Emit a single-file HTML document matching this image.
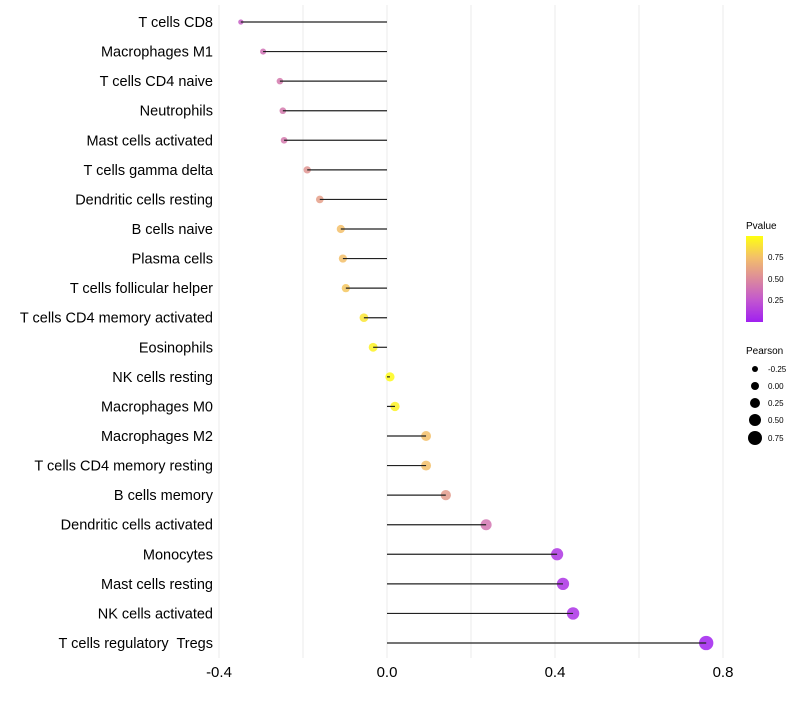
<!DOCTYPE html>
<html><head><meta charset="utf-8"><style>body{margin:0;background:#fff}svg{font-family:"Liberation Sans",sans-serif}text{white-space:pre}</style></head>
<body>
<svg id="c" width="800" height="700">
<defs><linearGradient id="pg" x1="0" y1="1" x2="0" y2="0">
<stop offset="0" stop-color="#a020f0"/><stop offset="0.25" stop-color="#c256d0"/><stop offset="0.5" stop-color="#dc8a9c"/><stop offset="0.75" stop-color="#f3bf6a"/><stop offset="1" stop-color="#ffff10"/></linearGradient></defs>
<g id="grid"></g><g id="dots"></g><g id="marks"></g><g id="labels"></g>
<g>
<text x="746" y="229" font-size="10">Pvalue</text>
<rect x="746" y="236" width="17" height="86" fill="url(#pg)"/>
<text x="768" y="260" font-size="8">0.75</text><text x="768" y="282" font-size="8">0.50</text><text x="768" y="303" font-size="8">0.25</text>
</g>
<g>
<text x="746" y="354" font-size="10">Pearson</text>
<circle cx="755" cy="369" r="3"/><text x="768" y="372" font-size="8">-0.25</text>
<circle cx="755" cy="386" r="4"/><text x="768" y="389" font-size="8">0.00</text>
<circle cx="755" cy="403" r="5"/><text x="768" y="406" font-size="8">0.25</text>
<circle cx="755" cy="420" r="6"/><text x="768" y="423" font-size="8">0.50</text>
<circle cx="755" cy="438" r="7"/><text x="768" y="441" font-size="8">0.75</text>
</g>
</svg>
<script>
const categories=["T cells CD8","Macrophages M1","T cells CD4 naive","Neutrophils","Mast cells activated","T cells gamma delta","Dendritic cells resting","B cells naive","Plasma cells","T cells follicular helper","T cells CD4 memory activated","Eosinophils","NK cells resting","Macrophages M0","Macrophages M2","T cells CD4 memory resting","B cells memory","Dendritic cells activated","Monocytes","Mast cells resting","NK cells activated","T cells regulatory  Tregs"];
const pearson=[-0.348,-0.295,-0.255,-0.248,-0.245,-0.19,-0.16,-0.11,-0.105,-0.098,-0.055,-0.033,0.007,0.019,0.093,0.093,0.14,0.236,0.405,0.419,0.443,0.76];
const pvalue=[0.3,0.38,0.42,0.42,0.42,0.55,0.6,0.75,0.75,0.78,0.9,0.95,0.98,0.95,0.75,0.75,0.58,0.4,0.1,0.09,0.08,0.01];
const xTicks=[-0.4,0.0,0.4,0.8];
const xLabels=["-0.4","0.0","0.4","0.8"];
const NS="http://www.w3.org/2000/svg";
const X=v=>387+v*420, Y=i=>22+i*(621/21);
const R=v=>Math.sqrt(Math.max(2.5,11+40*(v+0.25)));
const stops=[[0,[160,32,240]],[0.25,[194,86,208]],[0.5,[220,138,156]],[0.75,[243,191,106]],[1,[255,255,16]]];
function col(p){for(let k=1;k<stops.length;k++){if(p<=stops[k][0]){const a=stops[k-1],b=stops[k],t=(p-a[0])/(b[0]-a[0]);return "rgb("+a[1].map((c,j)=>Math.round(c+(b[1][j]-c)*t)).join(",")+")";}}return "rgb(255,255,16)";}
function mk(t,at,par){const e=document.createElementNS(NS,t);for(const k in at)e.setAttribute(k,at[k]);document.getElementById(par).appendChild(e);return e;}
[-0.4,-0.2,0,0.2,0.4,0.6,0.8].forEach(v=>{const g=mk("line",{x1:X(v),x2:X(v),y1:5,y2:658,stroke:"#ebebeb","stroke-width":1},"grid");

});
xTicks.forEach((v,i)=>{const t=mk("text",{x:X(v),y:677,"font-size":15,"text-anchor":"middle"},"labels");t.textContent=xLabels[i];

});
categories.forEach((c,i)=>{const y=Y(i);
const d=mk("circle",{cx:X(pearson[i]),cy:y,r:R(pearson[i]),fill:col(pvalue[i]),opacity:0.85},"dots");


const l=mk("line",{x1:X(0),x2:X(pearson[i]),y1:y,y2:y,stroke:"#222","stroke-width":1.2},"marks");


const t=mk("text",{x:213,y:y+5,"font-size":14.5,"text-anchor":"end"},"labels");t.textContent=c;

});
</script>
</body></html>
